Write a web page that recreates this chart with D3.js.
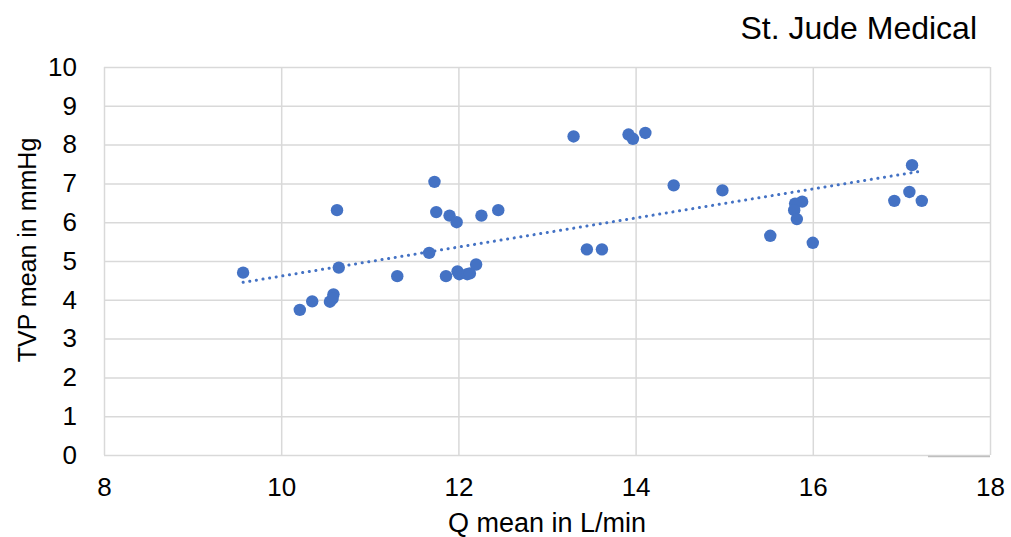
<!DOCTYPE html>
<html>
<head>
<meta charset="utf-8">
<script src="https://cdn.jsdelivr.net/npm/d3@7"></script>
<style>
  body { margin: 0; background: #fff; }
  text { font-family: "Liberation Sans", Arial, sans-serif; fill: #000; }
</style>
</head>
<body>
<svg id="chart" width="1011" height="537"></svg>
<script>
// Q mean (L/min) and TVP mean (mmHg)
const qMean = [9.57, 10.21, 10.35, 10.55, 10.59, 10.58, 10.63, 10.65, 11.31, 11.67,
  11.73, 11.75, 11.90, 11.98, 11.86, 11.99, 12.01, 12.10, 12.13, 12.20,
  12.26, 12.45, 13.30, 13.92, 13.97, 14.11, 14.43, 14.98, 13.45, 13.62,
  15.52, 16.00, 15.88, 15.80, 15.79, 15.82, 17.12, 17.09, 16.92, 17.23];
const tvpMean = [4.70, 3.74, 3.96, 3.95, 4.14, 4.03, 6.31, 4.83, 4.61, 5.21,
  7.04, 6.26, 6.17, 6.00, 4.61, 4.73, 4.66, 4.66, 4.68, 4.91,
  6.17, 6.31, 8.21, 8.26, 8.15, 8.30, 6.95, 6.82, 5.30, 5.30,
  5.65, 5.47, 6.53, 6.48, 6.31, 6.08, 7.47, 6.78, 6.55, 6.55];
// linear trendline end points, as drawn
const trendQ = [9.57, 17.21];
const trendTvp = [4.45, 7.31];
const xTicks = [8, 10, 12, 14, 16, 18];
const yTicks = [0, 1, 2, 3, 4, 5, 6, 7, 8, 9, 10];

const margin = { left: 104, right: 21, top: 67, bottom: 82 };
const width = 1011 - margin.left - margin.right,
  height = 537 - margin.top - margin.bottom;

const svg = d3.select("#chart");
const g = svg.append("g")
  .attr("transform", `translate(${margin.left},${margin.top})`);

const x = d3.scaleLinear().domain([8, 18]).range([0, width]);
const y = d3.scaleLinear().domain([0, 10]).range([height, 0]);

// gridlines
g.append("g")
  .call(d3.axisLeft(y).tickValues(yTicks).tickSize(-width).tickFormat(""))
  .call((s) => s.select(".domain").remove())
  .selectAll("line").attr("stroke", "#d9d9d9").attr("stroke-width", 1.5);
g.append("g")
  .attr("transform", `translate(0,${height})`)
  .call(d3.axisBottom(x).tickValues(xTicks).tickSize(-height).tickFormat(""))
  .call((s) => s.select(".domain").remove())
  .selectAll("line").attr("stroke", "#d9d9d9").attr("stroke-width", 1.5);

// small darker segment at bottom right
g.append("line")
  .attr("x1", x(17.3)).attr("x2", x(18))
  .attr("y1", y(0) + 1.5).attr("y2", y(0) + 1.5)
  .attr("stroke", "#bfbfbf").attr("stroke-width", 1.5);

// tick labels
g.append("g")
  .attr("transform", `translate(0,${height})`)
  .call(d3.axisBottom(x).tickValues(xTicks).tickSize(0).tickPadding(23))
  .call((s) => s.select(".domain").remove())
  .selectAll("text").style("font-size", "26px");
g.append("g")
  .call(d3.axisLeft(y).tickValues(yTicks).tickSize(0).tickPadding(27))
  .call((s) => s.select(".domain").remove())
  .selectAll("text").style("font-size", "26px");

// trendline
g.append("line")
  .attr("x1", x(trendQ[0])).attr("y1", y(trendTvp[0]))
  .attr("x2", x(trendQ[1])).attr("y2", y(trendTvp[1]))
  .attr("stroke", "#4472c4").attr("stroke-width", 3)
  .attr("stroke-dasharray", "0.1 6.6").attr("stroke-linecap", "round");

// points
g.selectAll("circle")
  .data(qMean)
  .join("circle")
  .attr("cx", (d) => x(d))
  .attr("cy", (d, i) => y(tvpMean[i]))
  .attr("r", 6.2)
  .attr("fill", "#4472c4");

// titles
svg.append("text")
  .attr("x", 977).attr("y", 39)
  .attr("text-anchor", "end")
  .style("font-size", "32px")
  .text("St. Jude Medical");
svg.append("text")
  .attr("x", margin.left + width / 2).attr("y", 532)
  .attr("text-anchor", "middle")
  .style("font-size", "27px")
  .text("Q mean in L/min");
svg.append("text")
  .attr("transform", "translate(36,250) rotate(-90)")
  .attr("text-anchor", "middle")
  .style("font-size", "25px")
  .text("TVP mean in mmHg");
</script>
</body>
</html>
